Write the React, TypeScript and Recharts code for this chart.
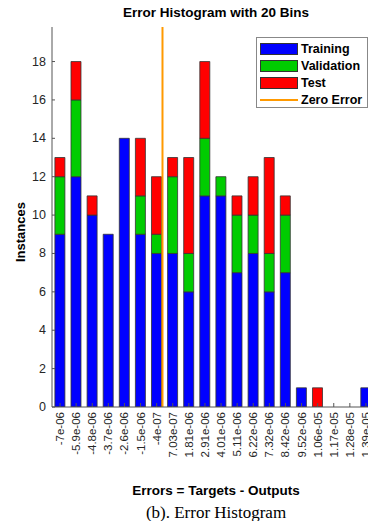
import React from "react";
import { BarChart, Bar, XAxis, YAxis, ReferenceLine } from "recharts";

const binLabels = ["-7e-06","-5.9e-06","-4.8e-06","-3.7e-06","-2.6e-06","-1.5e-06","-4e-07","7.03e-07","1.81e-06","2.91e-06","4.01e-06","5.11e-06","6.22e-06","7.32e-06","8.42e-06","9.52e-06","1.06e-05","1.17e-05","1.28e-05","1.39e-05"];
const binCenters = [-7e-6,-5.9e-6,-4.8e-6,-3.7e-6,-2.6e-6,-1.5e-6,-4e-7,7.03e-7,1.81e-6,2.91e-6,4.01e-6,5.11e-6,6.22e-6,7.32e-6,8.42e-6,9.52e-6,1.06e-5,1.17e-5,1.28e-5,1.39e-5];
const training = [9,12,10,9,14,9,8,8,6,11,11,7,8,6,7,1,0,0,0,1];
const validation = [3,4,0,0,0,2,1,4,2,3,1,3,2,2,3,0,0,0,0,0];
const test = [1,2,1,0,0,3,3,1,5,4,0,1,2,5,1,0,1,0,0,0];
const yTicks = [0,2,4,6,8,10,12,14,16,18];

const data = binLabels.map((label, i) => ({
  label,
  idx: i,
  training: training[i],
  validation: validation[i],
  test: test[i],
}));

// fractional index position of zero error between bin centers
let zeroIdx = 0;
for (let i = 0; i < binCenters.length - 1; i++) {
  if (binCenters[i] <= 0 && binCenters[i + 1] > 0) {
    zeroIdx = i + (0 - binCenters[i]) / (binCenters[i + 1] - binCenters[i]);
  }
}

const FONT = "'Liberation Sans', Arial, Helvetica, sans-serif";
const AXIS = "#555";
const TXT = "#262626";

const XTick = (props: any) => {
  const { x, y, payload } = props;
  return (
    <g>
      <line x1={x} x2={x} y1={y} y2={y - 4} stroke={AXIS} strokeWidth={1} />
      <text
        x={x}
        y={y + 5}
        transform={`rotate(-90, ${x}, ${y + 5})`}
        textAnchor="end"
        dominantBaseline="central"
        fontSize={11.5}
        fontFamily={FONT}
        fill={TXT}
      >
        {payload.value}
      </text>
    </g>
  );
};

const YTick = (props: any) => {
  const { x, y, payload } = props;
  return (
    <g>
      <line x1={x + 6} x2={x + 9} y1={y} y2={y} stroke={AXIS} strokeWidth={1} />
      <text
        x={x}
        y={y}
        textAnchor="end"
        dominantBaseline="central"
        fontSize={12.5}
        fontFamily={FONT}
        fill={TXT}
      >
        {payload.value}
      </text>
    </g>
  );
};

const legendItems = [
  { name: "Training", color: "#0000FF", type: "rect" },
  { name: "Validation", color: "#00CC00", type: "rect" },
  { name: "Test", color: "#FF0000", type: "rect" },
  { name: "Zero Error", color: "#FF9900", type: "line" },
];

export default function App() {
  return (
    <div
      style={{
        position: "relative",
        width: 376,
        height: 529,
        margin: -8,
        overflow: "hidden",
        background: "#fff",
      }}
    >
      <div
        style={{
          position: "absolute",
          top: 4,
          left: 52,
          width: 328,
          textAlign: "center",
          fontFamily: FONT,
          fontWeight: "bold",
          fontSize: 13.5,
          color: "#000",
          lineHeight: "18px",
        }}
      >
        Error Histogram with 20 Bins
      </div>
      <div
        style={{
          position: "absolute",
          left: 20,
          top: 232,
          transform: "translate(-50%, -50%) rotate(-90deg)",
          fontFamily: FONT,
          fontWeight: "bold",
          fontSize: 13,
          color: "#000",
          whiteSpace: "nowrap",
        }}
      >
        Instances
      </div>
      <BarChart
        width={376}
        height={529}
        data={data}
        margin={{ top: 27, right: 2, bottom: 62, left: 12 }}
        barCategoryGap="18%"
      >
        <XAxis
          dataKey="label"
          interval={0}
          tickSize={0}
          tickMargin={0}
          tick={<XTick />}
          axisLine={{ stroke: AXIS }}
          tickLine={false}
          height={60}
        />
        <XAxis
          xAxisId="n"
          dataKey="idx"
          type="number"
          domain={[-0.5, 19.5]}
          allowDataOverflow
          hide
        />
        <YAxis
          width={40}
          domain={[0, 19.8]}
          ticks={yTicks}
          allowDataOverflow
          tickSize={4}
          tickMargin={2}
          tick={<YTick />}
          tickLine={false}
          axisLine={{ stroke: AXIS }}
        />
        <Bar dataKey="training" stackId="a" fill="#0000FF" stroke="#333" strokeWidth={0.8} isAnimationActive={false} />
        <Bar dataKey="validation" stackId="a" fill="#00CC00" stroke="#333" strokeWidth={0.8} isAnimationActive={false} />
        <Bar dataKey="test" stackId="a" fill="#FF0000" stroke="#333" strokeWidth={0.8} isAnimationActive={false} />
        <ReferenceLine xAxisId="n" x={zeroIdx} stroke="#FF9900" strokeWidth={2} ifOverflow="extendDomain" />
      </BarChart>
      <div
        style={{
          position: "absolute",
          left: 256,
          top: 37,
          width: 112,
          height: 71,
          border: "1px solid #888",
          background: "#fff",
          boxSizing: "border-box",
          fontFamily: FONT,
          fontWeight: "bold",
          fontSize: 12.5,
          color: "#000",
          paddingTop: 2,
        }}
      >
        {legendItems.map((it) => (
          <div key={it.name} style={{ display: "flex", alignItems: "center", height: 17, marginLeft: 3 }}>
            {it.type === "rect" ? (
              <div style={{ width: 38, height: 12, background: it.color, border: "1px solid #333", boxSizing: "border-box" }} />
            ) : (
              <div style={{ width: 38, height: 2, background: it.color }} />
            )}
            <span style={{ marginLeft: 3 }}>{it.name}</span>
          </div>
        ))}
      </div>
      <div
        style={{
          position: "absolute",
          top: 482,
          left: 52,
          width: 328,
          textAlign: "center",
          fontFamily: FONT,
          fontWeight: "bold",
          fontSize: 13.5,
          color: "#000",
          lineHeight: "18px",
        }}
      >
        Errors = Targets - Outputs
      </div>
      <div
        style={{
          position: "absolute",
          top: 502,
          left: 52,
          width: 328,
          textAlign: "center",
          fontFamily: "'Liberation Serif', 'Times New Roman', serif",
          fontSize: 17,
          color: "#000",
          lineHeight: "22px",
        }}
      >
        (b). Error Histogram
      </div>
    </div>
  );
}
